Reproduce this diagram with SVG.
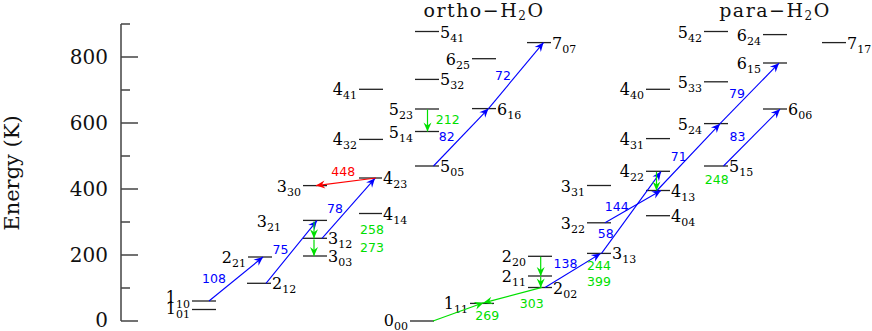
<svg xmlns="http://www.w3.org/2000/svg" width="872" height="331" viewBox="0 0 872 331">
<style>
.ax{stroke:#444;stroke-width:1.5;fill:none}
.tk{font-family:"DejaVu Serif",serif;font-size:20px;fill:#111;text-anchor:end}
.ttl{font-family:"DejaVu Serif",serif;font-size:19px;fill:#111;text-anchor:middle;letter-spacing:1.5px}
.lv{stroke:#222;stroke-width:1.3}
.lb{font-family:"DejaVu Serif",serif;font-size:16px;fill:#000}
.le{text-anchor:end}
.sb{font-size:11px}
.cb{stroke:#0000ff;stroke-width:1.1;fill:none;marker-end:url(#mb)}
.cg{stroke:#00e000;stroke-width:1.2;fill:none;marker-end:url(#mg)}
.cr{stroke:#ff0000;stroke-width:1.1;fill:none;marker-end:url(#mr)}
.nb,.ng,.nr{font-family:"DejaVu Sans",sans-serif;font-size:12.5px;text-anchor:middle}
.nb{fill:#0000ff}.ng{fill:#00e000}.nr{fill:#ff0000}
</style>
<defs>
<marker id="mb" viewBox="-10 -5 11 10" refX="0" refY="0" markerWidth="11" markerHeight="10" markerUnits="userSpaceOnUse" orient="auto"><path d="M0,0 L-9,-4 L-6,0 L-9,4 Z" fill="#0000ff"/></marker>
<marker id="mg" viewBox="-10 -5 11 10" refX="0" refY="0" markerWidth="11" markerHeight="10" markerUnits="userSpaceOnUse" orient="auto"><path d="M0,0 L-9,-4 L-6,0 L-9,4 Z" fill="#00e000"/></marker>
<marker id="mr" viewBox="-10 -5 11 10" refX="0" refY="0" markerWidth="11" markerHeight="10" markerUnits="userSpaceOnUse" orient="auto"><path d="M0,0 L-9,-4 L-6,0 L-9,4 Z" fill="#ff0000"/></marker>
</defs>
<rect width="872" height="331" fill="#fff"/>

<g id="axis">
<path class="ax" d="M121,24 V321 M121,321 H138 M121,255 H138 M121,189 H138 M121,123 H138 M121,57 H138 M121,288 H130 M121,222 H130 M121,156 H130 M121,90 H130 M121,24 H130"/>
<text class="tk" x="108" y="327">0</text>
<text class="tk" x="108" y="262">200</text>
<text class="tk" x="108" y="196">400</text>
<text class="tk" x="108" y="130">600</text>
<text class="tk" x="108" y="64">800</text>
<text transform="translate(19,173) rotate(-90)" font-family="DejaVu Serif, serif" font-size="21" fill="#111" text-anchor="middle">Energy (K)</text>
</g>

<g id="titles">
<text class="ttl" x="484" y="16.5">ortho−H<tspan font-size="12" dy="3.5">2</tspan><tspan dy="-3.5">O</tspan></text>
<text class="ttl" x="775" y="16.5">para−H<tspan font-size="12" dy="3.5">2</tspan><tspan dy="-3.5">O</tspan></text>
</g>

<!-- ortho levels -->
<g id="o101"><line class="lv" x1="192" y1="309.5" x2="216" y2="309.5"/><text class="lb le" x="190" y="313.5">1<tspan class="sb" dy="4">01</tspan></text></g>
<g id="o110"><line class="lv" x1="192" y1="301" x2="216" y2="301"/><text class="lb le" x="190" y="303">1<tspan class="sb" dy="5">10</tspan></text></g>
<g id="o212"><line class="lv" x1="247" y1="283.3" x2="271" y2="283.3"/><text class="lb" x="272" y="289.3">2<tspan class="sb" dy="4">12</tspan></text></g>
<g id="o221"><line class="lv" x1="248" y1="257" x2="272" y2="257"/><text class="lb le" x="246" y="263">2<tspan class="sb" dy="4">21</tspan></text></g>
<g id="o303"><line class="lv" x1="303" y1="256" x2="327" y2="256"/><text class="lb" x="328" y="262">3<tspan class="sb" dy="4">03</tspan></text></g>
<g id="o312"><line class="lv" x1="303" y1="238.3" x2="327" y2="238.3"/><text class="lb" x="328" y="244.3">3<tspan class="sb" dy="4">12</tspan></text></g>
<g id="o321"><line class="lv" x1="303" y1="220.4" x2="327" y2="220.4"/><text class="lb le" x="281" y="227">3<tspan class="sb" dy="4">21</tspan></text></g>
<g id="o330"><line class="lv" x1="303" y1="185.6" x2="327" y2="185.6"/><text class="lb le" x="301" y="191.6">3<tspan class="sb" dy="4">30</tspan></text></g>
<g id="o414"><line class="lv" x1="359" y1="213.5" x2="382" y2="213.5"/><text class="lb" x="383" y="219.5">4<tspan class="sb" dy="4">14</tspan></text></g>
<g id="o423"><line class="lv" x1="359" y1="178" x2="382" y2="178"/><text class="lb" x="383" y="184">4<tspan class="sb" dy="4">23</tspan></text></g>
<g id="o432"><line class="lv" x1="359" y1="139.4" x2="383" y2="139.4"/><text class="lb le" x="357" y="145.4">4<tspan class="sb" dy="4">32</tspan></text></g>
<g id="o441"><line class="lv" x1="359" y1="89.3" x2="383" y2="89.3"/><text class="lb le" x="357" y="95.3">4<tspan class="sb" dy="4">41</tspan></text></g>
<g id="o505"><line class="lv" x1="415" y1="166" x2="439" y2="166"/><text class="lb" x="440" y="172">5<tspan class="sb" dy="4">05</tspan></text></g>
<g id="o514"><line class="lv" x1="415" y1="131.5" x2="439" y2="131.5"/><text class="lb le" x="413" y="137.5">5<tspan class="sb" dy="4">14</tspan></text></g>
<g id="o523"><line class="lv" x1="415" y1="109" x2="439" y2="109"/><text class="lb le" x="413" y="115">5<tspan class="sb" dy="4">23</tspan></text></g>
<g id="o532"><line class="lv" x1="415" y1="79.4" x2="439" y2="79.4"/><text class="lb" x="440" y="85.4">5<tspan class="sb" dy="4">32</tspan></text></g>
<g id="o541"><line class="lv" x1="415" y1="31.5" x2="439" y2="31.5"/><text class="lb" x="440" y="37.5">5<tspan class="sb" dy="4">41</tspan></text></g>
<g id="o616"><line class="lv" x1="472" y1="108.6" x2="496" y2="108.6"/><text class="lb" x="497" y="114.6">6<tspan class="sb" dy="4">16</tspan></text></g>
<g id="o625"><line class="lv" x1="472" y1="58.7" x2="496" y2="58.7"/><text class="lb le" x="470" y="64.7">6<tspan class="sb" dy="4">25</tspan></text></g>
<g id="o707"><line class="lv" x1="527" y1="42.6" x2="551" y2="42.6"/><text class="lb" x="552" y="48.6">7<tspan class="sb" dy="4">07</tspan></text></g>

<!-- para levels -->
<g id="p000"><line class="lv" x1="410" y1="321" x2="434" y2="321"/><text class="lb le" x="408" y="326">0<tspan class="sb" dy="3.5">00</tspan></text></g>
<g id="p111"><line class="lv" x1="470" y1="303.4" x2="494" y2="303.4"/><text class="lb le" x="468" y="309.4">1<tspan class="sb" dy="4">11</tspan></text></g>
<g id="p202"><line class="lv" x1="528" y1="287.5" x2="552" y2="287.5"/><text class="lb" x="553" y="293.5">2<tspan class="sb" dy="4">02</tspan></text></g>
<g id="p211"><line class="lv" x1="528" y1="276" x2="552" y2="276"/><text class="lb le" x="526" y="282">2<tspan class="sb" dy="4">11</tspan></text></g>
<g id="p220"><line class="lv" x1="528" y1="256.3" x2="552" y2="256.3"/><text class="lb le" x="526" y="262.3">2<tspan class="sb" dy="4">20</tspan></text></g>
<g id="p313"><line class="lv" x1="587" y1="253.4" x2="611" y2="253.4"/><text class="lb" x="612" y="259.4">3<tspan class="sb" dy="4">13</tspan></text></g>
<g id="p322"><line class="lv" x1="587" y1="222.8" x2="611" y2="222.8"/><text class="lb le" x="585" y="228.8">3<tspan class="sb" dy="4">22</tspan></text></g>
<g id="p331"><line class="lv" x1="587" y1="185.5" x2="611" y2="185.5"/><text class="lb le" x="585" y="191.5">3<tspan class="sb" dy="4">31</tspan></text></g>
<g id="p404"><line class="lv" x1="646" y1="215.7" x2="670" y2="215.7"/><text class="lb" x="671" y="221.7">4<tspan class="sb" dy="4">04</tspan></text></g>
<g id="p413"><line class="lv" x1="646" y1="190.5" x2="670" y2="190.5"/><text class="lb" x="671" y="196.5">4<tspan class="sb" dy="4">13</tspan></text></g>
<g id="p422"><line class="lv" x1="646" y1="171.3" x2="670" y2="171.3"/><text class="lb le" x="644" y="177.3">4<tspan class="sb" dy="4">22</tspan></text></g>
<g id="p431"><line class="lv" x1="646" y1="138.6" x2="670" y2="138.6"/><text class="lb le" x="644" y="144.6">4<tspan class="sb" dy="4">31</tspan></text></g>
<g id="p440"><line class="lv" x1="646" y1="89.3" x2="670" y2="89.3"/><text class="lb le" x="644" y="95.3">4<tspan class="sb" dy="4">40</tspan></text></g>
<g id="p515"><line class="lv" x1="704" y1="166" x2="728" y2="166"/><text class="lb" x="729" y="172">5<tspan class="sb" dy="4">15</tspan></text></g>
<g id="p524"><line class="lv" x1="704" y1="123.6" x2="728" y2="123.6"/><text class="lb le" x="702" y="129.6">5<tspan class="sb" dy="4">24</tspan></text></g>
<g id="p533"><line class="lv" x1="704" y1="81.8" x2="728" y2="81.8"/><text class="lb le" x="702" y="87.8">5<tspan class="sb" dy="4">33</tspan></text></g>
<g id="p542"><line class="lv" x1="704" y1="31.5" x2="728" y2="31.5"/><text class="lb le" x="702" y="37.5">5<tspan class="sb" dy="4">42</tspan></text></g>
<g id="p606"><line class="lv" x1="763" y1="109" x2="787" y2="109"/><text class="lb" x="788" y="115">6<tspan class="sb" dy="4">06</tspan></text></g>
<g id="p615"><line class="lv" x1="763" y1="63" x2="787" y2="63"/><text class="lb le" x="761" y="69">6<tspan class="sb" dy="4">15</tspan></text></g>
<g id="p624"><line class="lv" x1="763" y1="34.6" x2="787" y2="34.6"/><text class="lb le" x="761" y="40.6">6<tspan class="sb" dy="4">24</tspan></text></g>
<g id="p717"><line class="lv" x1="822" y1="42.6" x2="846" y2="42.6"/><text class="lb" x="847" y="48.6">7<tspan class="sb" dy="4">17</tspan></text></g>

<g id="connectors">
<!-- ortho -->
<line class="cb" x1="209" y1="301" x2="263" y2="257"/>
<line class="cb" x1="266" y1="283.3" x2="317" y2="220.6"/>
<line class="cb" x1="322" y1="238.3" x2="375" y2="178.3"/>
<line class="cr" x1="376" y1="178" x2="316" y2="185.6"/>
<line class="cg" x1="314" y1="221.5" x2="314" y2="238.3"/>
<line class="cg" x1="314" y1="239.5" x2="314" y2="256"/>
<line class="cg" x1="427.5" y1="109.5" x2="427.5" y2="131.5"/>
<line class="cb" x1="433.5" y1="166" x2="488.5" y2="108.6"/>
<line class="cb" x1="488.5" y1="108.6" x2="543.5" y2="42.6"/>
<!-- para -->
<line class="cg" x1="433" y1="321" x2="483.5" y2="302.8"/>
<line class="cg" x1="542" y1="287.3" x2="483.5" y2="302.8"/>
<line class="cg" x1="540.7" y1="256.8" x2="540.7" y2="276"/>
<line class="cg" x1="540.7" y1="277" x2="540.7" y2="287.5"/>
<line class="cb" x1="545" y1="287.5" x2="600.5" y2="253.6"/>
<line class="cb" x1="601.5" y1="253.4" x2="661" y2="171.6"/>
<line class="cb" x1="605" y1="222.8" x2="661" y2="190.6"/>
<line class="cg" x1="656.5" y1="172" x2="656.5" y2="190.5"/>
<line class="cb" x1="657" y1="190.5" x2="720" y2="123.8"/>
<line class="cb" x1="720" y1="123.6" x2="779" y2="63.2"/>
<line class="cb" x1="723.5" y1="166" x2="780" y2="109.2"/>
</g>

<g id="connector-labels">
<text class="nb" x="214" y="282.6">108</text>
<text class="nb" x="280.5" y="253.6">75</text>
<text class="nb" x="335" y="212.8">78</text>
<text class="nr" x="343.3" y="176.2">448</text>
<text class="ng" x="372" y="233.7">258</text>
<text class="ng" x="372" y="251.5">273</text>
<text class="ng" x="447.7" y="124">212</text>
<text class="nb" x="446.7" y="141.2">82</text>
<text class="nb" x="503" y="79.6">72</text>
<text class="ng" x="487.3" y="320.2">269</text>
<text class="ng" x="531.7" y="308.3">303</text>
<text class="ng" x="599" y="270.3">244</text>
<text class="ng" x="599" y="285.6">399</text>
<text class="nb" x="565.5" y="267.6">138</text>
<text class="nb" x="605.8" y="237.6">58</text>
<text class="nb" x="616.7" y="211">144</text>
<text class="nb" x="678.8" y="161">71</text>
<text class="nb" x="737" y="97.6">79</text>
<text class="nb" x="737.5" y="141">83</text>
<text class="ng" x="716.7" y="184.3">248</text>
</g>
</svg>
